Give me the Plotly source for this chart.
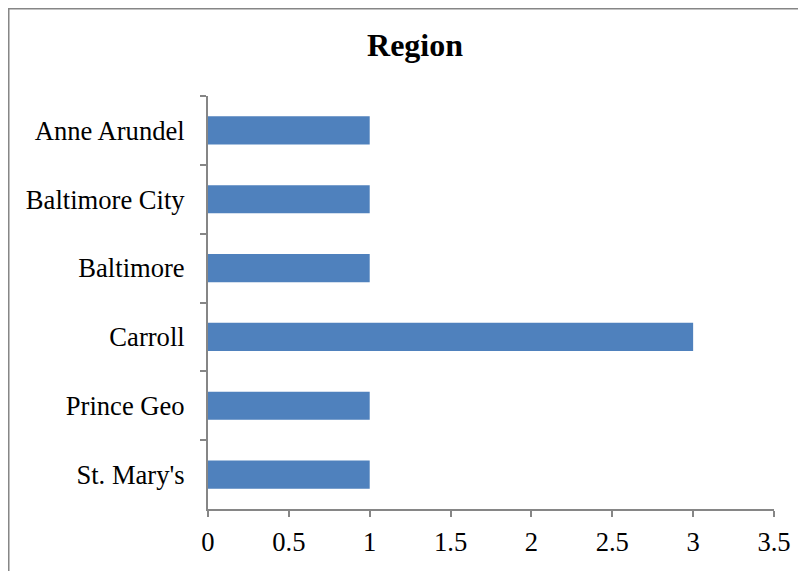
import plotly.graph_objects as go

categories = ["Anne Arundel", "Baltimore City", "Baltimore", "Carroll", "Prince Geo", "St. Mary's"]
values = [1, 1, 1, 3, 1, 1]
x_ticks = [0, 0.5, 1, 1.5, 2, 2.5, 3, 3.5]
x_tick_labels = ["0", "0.5", "1", "1.5", "2", "2.5", "3", "3.5"]

FONT = "Liberation Serif, Times New Roman, serif"
AXIS_GRAY = "#868686"

fig = go.Figure(
    go.Bar(
        x=values,
        y=categories,
        orientation="h",
        marker=dict(color="#4F81BD", line=dict(width=0)),
        hoverinfo="x+y",
    )
)

fig.update_layout(
    width=806,
    height=571,
    margin=dict(l=200, r=40, t=88, b=70),
    paper_bgcolor="white",
    plot_bgcolor="white",
    bargap=0.59,
    showlegend=False,
    font=dict(family=FONT, size=26.6, color="black"),
    title=dict(
        text="<b>Region</b>",
        font=dict(family=FONT, size=32, color="black"),
        x=0.505,
        xref="container",
        xanchor="center",
        y=0.935,
        yref="container",
        yanchor="middle",
    ),
    xaxis=dict(
        range=[0, 3.5],
        tickmode="array",
        tickvals=x_ticks,
        ticktext=x_tick_labels,
        showgrid=False,
        zeroline=False,
        showline=True,
        linecolor=AXIS_GRAY,
        linewidth=2,
        ticks="outside",
        ticklen=6,
        tickwidth=2,
        tickcolor=AXIS_GRAY,
        tickfont=dict(family=FONT, size=26.6, color="black"),
        ticklabelstandoff=2,
        fixedrange=True,
    ),
    yaxis=dict(
        categoryorder="array",
        categoryarray=categories,
        autorange="reversed",
        showgrid=False,
        zeroline=False,
        showline=True,
        linecolor=AXIS_GRAY,
        linewidth=2,
        ticks="outside",
        tickson="boundaries",
        ticklen=6,
        tickwidth=2,
        tickcolor=AXIS_GRAY,
        tickfont=dict(family=FONT, size=26.6, color="black"),
        ticklabelstandoff=16,
        fixedrange=True,
    ),
    shapes=[
        dict(
            type="rect",
            xref="paper",
            yref="paper",
            x0=-0.352,
            x1=1.3,
            y0=-0.4,
            y1=1.2113,
            line=dict(color=AXIS_GRAY, width=1.5),
            fillcolor="rgba(0,0,0,0)",
            layer="below",
        )
    ],
)

fig.write_html("out.html")
